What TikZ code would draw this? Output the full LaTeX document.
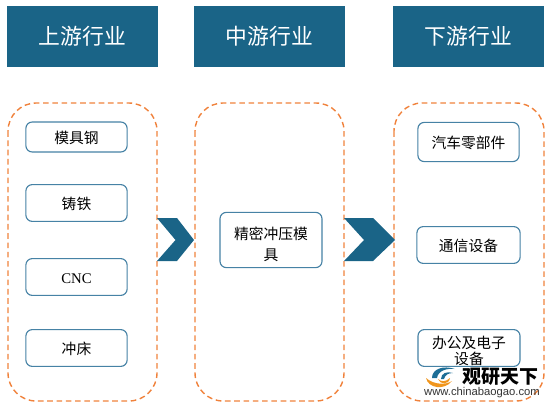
\documentclass[tikz,border=0pt]{standalone}
\usepackage{fontspec}
\setmainfont{Liberation Serif}
\setsansfont{Liberation Sans}
\newfontfamily\cjk{Noto Sans CJK SC}
\definecolor{headblue}{RGB}{26,100,135}
\definecolor{boxblue}{RGB}{70,130,165}
\definecolor{dashorange}{RGB}{240,130,60}
\definecolor{logoblue}{RGB}{30,110,150}
\definecolor{logoorange}{RGB}{240,150,30}
\tikzset{
    headbox/.style={fill=headblue, text=white, inner sep=0pt, text height=11.5pt, text depth=0pt, font=\cjk\fontsize{15.5}{18}\selectfont},
    itembox/.style={draw=boxblue, line width=0.8pt, rounded corners=4.5pt, fill=white, inner sep=0pt, align=center, font=\cjk\fontsize{10.5}{14.5}\selectfont},
    oneline/.style={text height=9.6pt, text depth=0pt},
    groupbox/.style={draw=dashorange, line width=1pt, dash pattern=on 4pt off 2.6pt, rounded corners=20pt},
    chevron/.style={fill=headblue}
}
\begin{document}
\begin{tikzpicture}[x=0.025cm, y=-0.025cm]
    \useasboundingbox (0,0) rectangle (551,408);

    % Headers
    \node[headbox, minimum width=3.775cm, minimum height=1.5cm] (up) at (82.5,36.5) {上游行业};
    \node[headbox, minimum width=3.775cm, minimum height=1.5cm] (mid) at (269.5,36.5) {中游行业};
    \node[headbox, minimum width=3.775cm, minimum height=1.5cm] (down) at (468.5,36.5) {下游行业};

    % Dashed groups
    \draw[groupbox] (8,103) rectangle (157,401);
    \draw[groupbox] (195,103) rectangle (344,401);
    \draw[groupbox] (394,103) rectangle (544,401);

    % Chevrons between the groups
    \fill[chevron] (157,218) -- (177,218) -- (194,240) -- (177,261) -- (157,261) -- (175.5,240) -- cycle;
    \fill[chevron] (344,218) -- (373,218) -- (395,240) -- (373,261) -- (344,261) -- (364,240) -- cycle;

    % Upstream items
    \node[itembox, oneline, minimum width=2.53cm, minimum height=0.75cm] (steel) at (76.5,137) {模具钢};
    \node[itembox, oneline, minimum width=2.53cm, minimum height=0.92cm] (iron) at (76.5,203) {铸铁};
    \node[itembox, oneline, minimum width=2.53cm, minimum height=0.92cm] (cnc) at (76.5,277) {\rmfamily CNC};
    \node[itembox, oneline, minimum width=2.53cm, minimum height=0.92cm] (press) at (76.5,348) {冲床};

    % Midstream item
    \node[itembox, minimum width=2.55cm, minimum height=1.38cm] (stamp) at (271,240) {\rule{0pt}{15pt}精密冲压模\\[1pt]具};

    % Downstream items
    \node[itembox, oneline, minimum width=2.53cm, minimum height=0.98cm] (auto) at (468.5,142) {汽车零部件};
    \node[itembox, oneline, minimum width=2.58cm, minimum height=0.92cm] (comm) at (468.5,245) {通信设备};
    \node[itembox, minimum width=2.55cm, minimum height=0.92cm] (office) at (469,348) {\rule{0pt}{13pt}办公及电子\\[-3.5pt]设备};

    % Watermark logo
    \fill[logoblue] (432,378) .. controls (432,369) and (443,365) .. (455,369) .. controls (446,368) and (438,371) .. (437,378) -- cycle;
    \fill[logoblue] (441,379) .. controls (441,373) and (447,371) .. (453,373) .. controls (448,373) and (445,375) .. (444,379) -- cycle;
    \fill[logoorange] (426,378) .. controls (428,388) and (444,391) .. (452,381) .. controls (446,385) and (434,385) .. (426,378) -- cycle;
    \fill[logoorange] (438,379) .. controls (441,382) and (446,382) .. (450,378) .. controls (449,385) and (440,385) .. (438,379) -- cycle;
    \node[inner sep=0pt, font=\cjk\bfseries\fontsize{13.5}{15}\selectfont] (brand) at (500.5,377) {观研天下};
    \node[inner sep=0pt, font=\sffamily\fontsize{8}{10}\selectfont, text=black!80] (site) at (482,393) {www.chinabaogao.com};
\end{tikzpicture}
\end{document}
